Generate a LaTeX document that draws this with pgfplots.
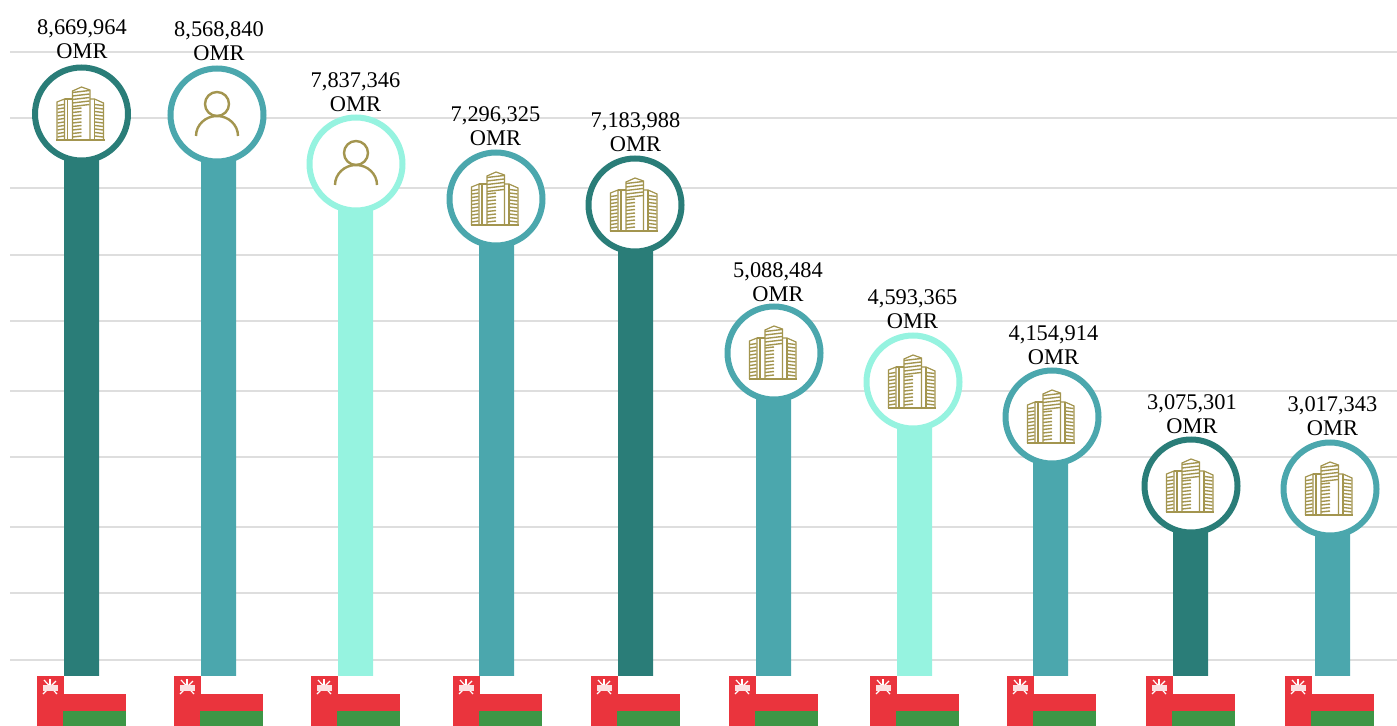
\documentclass[border=0pt]{standalone}
\usepackage{fontspec}
\setmainfont{Liberation Serif}
\usepackage{pgfplots}
\usepackage{pgfplotstable}
\pgfplotsset{compat=1.18}
\definecolor{tealdark}{HTML}{2A7D78}
\definecolor{tealmid}{HTML}{4BA7AD}
\definecolor{teallight}{HTML}{96F3E0}
\definecolor{gold}{HTML}{A3954F}
\definecolor{gridgray}{HTML}{DEDEDE}
\definecolor{flagred}{HTML}{EA343D}
\definecolor{flaggreen}{HTML}{3D9646}

% coordinates are reference pixels, y measured up from the bottom edge; 1 px = 0.5pt
% bx = bar centre, cx/cy = circle centre (and bar top)
\pgfplotstableread{
bx     cx    cy
81.5   81.5  611
635.5  635   520
1190.5 1191  239
}\darkitems
\pgfplotstableread{
bx     cx    cy
218.5  217   610
496.5  496   526
773.5  774   372
1050.5 1052  308
1332.5 1330  236
}\miditems
\pgfplotstableread{
bx     cx    cy
355.5  356   561
914.5  913   343
}\lightitems
\pgfplotstableread{
cx    cy
81.5  611
496   526
635   520
774   372
913   343
1052  308
1191  239
1330  236
}\buildings
\pgfplotstableread{
cx    cy
217   610
356   561
}\people
\pgfplotstableread{
fx    fy
37    49
174   49
311   49
453   49
591   49
729   49
870   49
1007  49
1146  49
1285  49
}\flags
\pgfplotstableread{
lx     ly   value
82     686  8,669,964
219    684  8,568,840
355.5  633  7,837,346
495.5  599  7,296,325
635.5  593  7,183,988
778    443  5,088,484
912.5  416  4,593,365
1053.5 380  4,154,914
1192   311  3,075,301
1332.5 309  3,017,343
}\labels

\pgfdeclareplotmark{building}{%
  \begin{scope}[x=0.5pt,y=0.5pt,draw=gold,line width=0.6pt,line join=miter]
    % left block
    \draw (-24.5,-26) -- (-24.5,12) -- (-17,15) -- (-17,-26);
    \draw (-17,15) -- (-9,15);
    \draw (-14,15) -- (-14,-26);
    % tower
    \draw (-9,-26) -- (-9,23) -- (0,27) -- (8.5,24) -- (8.5,-26);
    % right block
    \draw (8.5,15) -- (13,15) -- (22,11) -- (22,-26);
    \draw (13,15) -- (13,-26);
    \draw[line width=1pt] (-25.5,-26) -- (23,-26);
    \foreach \yy in {-23,-19.5,...,10} {
      \draw[line width=0.7pt] (-24,\yy) -- (-17.5,\yy+1);
      \draw[line width=0.7pt] (13.5,\yy+1) -- (21.5,\yy);
    }
    \foreach \yy in {-23,-19.5,...,6} {
      \draw[line width=0.7pt] (-9,\yy) -- (0,\yy+1);
    }
    \foreach \yy in {8.5,12,...,24} {
      \draw[line width=0.7pt] (-9,\yy-1) -- (8,\yy+1);
    }
  \end{scope}%
}
\pgfdeclareplotmark{person}{%
  \begin{scope}[x=0.5pt,y=0.5pt,draw=gold,line width=1.2pt]
    \draw (0,11) circle[radius=12];
    \draw (-21,-21) arc[start angle=180,end angle=0,x radius=21,y radius=20];
  \end{scope}%
}
\pgfdeclareplotmark{omanflag}{%
  \begin{scope}[x=0.5pt,y=0.5pt]
    \fill[white] (26,0) rectangle (88.5,-18);
    \fill[flagred] (0,0) rectangle (26,-50);
    \fill[flagred] (26,-18) rectangle (88.5,-35);
    \fill[flaggreen] (26,-35) rectangle (88.5,-50);
    \draw[white,line width=0.6pt] (7,-4) -- (20,-18);
    \draw[white,line width=0.6pt] (19,-5) -- (6,-18);
    \draw[white,line width=0.6pt] (13,-3) -- (13,-9);
    \fill[white!85!flagred] (6,-9) rectangle (20,-14);
  \end{scope}%
}

\begin{document}
\begin{tikzpicture}
  \useasboundingbox (-5pt,0pt) rectangle (693.5pt,362.5pt);
  \begin{axis}[
    scale only axis,
    width=693.5pt, height=362.5pt,
    xmin=10, xmax=1397, ymin=0, ymax=725,
    axis line style={draw=none},
    tick style={draw=none},
    xtick=\empty,
    ytick={65,132,198,268,334,404,470,537,607,673},
    yticklabels={},
    ymajorgrids,
    grid style={gridgray, line width=1pt},
  ]
    % bars
    \addplot[ybar, bar width=17.5pt, bar shift=0pt, fill=tealdark, draw=none] table[x=bx,y=cy] {\darkitems};
    \addplot[ybar, bar width=17.5pt, bar shift=0pt, fill=tealmid, draw=none] table[x=bx,y=cy] {\miditems};
    \addplot[ybar, bar width=17.5pt, bar shift=0pt, fill=teallight, draw=none] table[x=bx,y=cy] {\lightitems};
    % rings
    \addplot[only marks, mark=*, mark size=23.25pt, mark options={fill=white, draw=tealdark, line width=3pt}] table[x=cx,y=cy] {\darkitems};
    \addplot[only marks, mark=*, mark size=23.25pt, mark options={fill=white, draw=tealmid, line width=3pt}] table[x=cx,y=cy] {\miditems};
    \addplot[only marks, mark=*, mark size=23.25pt, mark options={fill=white, draw=teallight, line width=3pt}] table[x=cx,y=cy] {\lightitems};
    % icons
    \addplot[only marks, mark=building] table[x=cx,y=cy] {\buildings};
    \addplot[only marks, mark=person] table[x=cx,y=cy] {\people};
    % flags
    \addplot[only marks, mark=omanflag] table[x=fx,y=fy] {\flags};
    % value labels
    \addplot[only marks, mark=none, point meta=explicit symbolic,
      nodes near coords={\pgfplotspointmeta\\OMR},
      every node near coord/.style={anchor=center, inner sep=0pt, align=center, text=black,
        font=\fontsize{11.2}{12}\selectfont}]
      table[x=lx,y=ly,meta=value] {\labels};
  \end{axis}
\end{tikzpicture}
\end{document}
